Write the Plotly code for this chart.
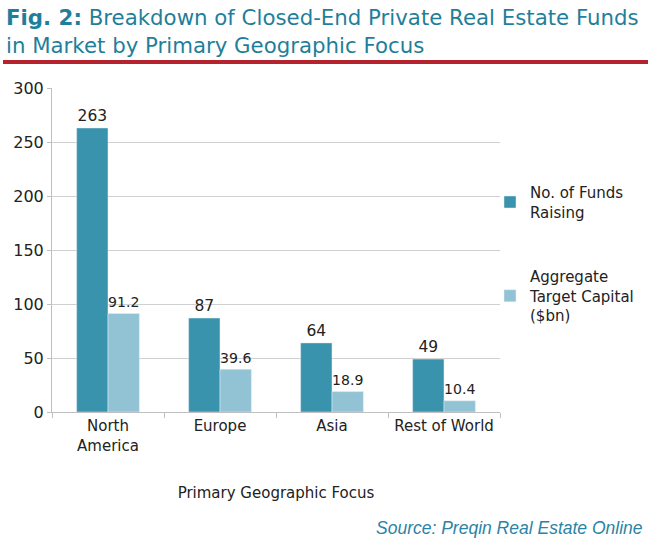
import plotly.graph_objects as go

categories = ["North<br>America", "Europe", "Asia", "Rest of World"]
funds_raising = [263, 87, 64, 49]
target_capital = [91.2, 39.6, 18.9, 10.4]
series_names = ["No. of Funds<br>Raising", "Aggregate<br>Target Capital<br>($bn)"]
title_lines = ["<b>Fig. 2:</b> Breakdown of Closed-End Private Real Estate Funds",
               "in Market by Primary Geographic Focus"]

FONT = "DejaVu Sans"
TEXT_COLOR = "#222222"
TITLE_COLOR = "#1f7f9a"

# plot area in pixels: x 52..500, y 88..412
L, R, T, B = 52, 500, 88, 412


def px_x(x):
    return (x - L) / (R - L)


def px_y(y):
    return (B - y) / (B - T)


bars = [
    go.Bar(x=categories, y=funds_raising, name=series_names[0], legendgroup="a",
           marker_color="#3a93ad", text=funds_raising, textposition="outside",
           cliponaxis=False, textfont=dict(size=15.5, color=TEXT_COLOR)),
    go.Bar(x=categories, y=target_capital, name=series_names[1], legendgroup="b",
           marker_color="#91c3d5", text=target_capital, textposition="outside",
           cliponaxis=False, textfont=dict(size=15.5, color=TEXT_COLOR)),
]

annotations = [
    dict(text=title_lines[0], x=px_x(4), y=px_y(18)),
    dict(text=title_lines[1], x=px_x(4), y=px_y(45)),
]
for a in annotations:
    a.update(xref="paper", yref="paper", xanchor="left", yanchor="middle",
             showarrow=False, font=dict(family=FONT, size=21.3, color=TITLE_COLOR))

annotations.append(dict(text="<i>Source: Preqin Real Estate Online</i>",
                        xref="paper", yref="paper", x=px_x(645), y=px_y(528),
                        xanchor="right", yanchor="middle", showarrow=False,
                        font=dict(family="Liberation Sans", size=17.5, color="#2b83a6")))

layout = go.Layout(
    width=650, height=543,
    margin=dict(l=L, r=650 - R, t=T, b=543 - B, autoexpand=False),
    paper_bgcolor="white", plot_bgcolor="white",
    font=dict(family=FONT, size=15, color=TEXT_COLOR),
    barmode="group", bargap=0.44, bargroupgap=0,
    xaxis=dict(
        title=dict(text="Primary Geographic Focus", standoff=33,
                   font=dict(size=15, color=TEXT_COLOR)),
        showline=True, linecolor="#bfbfbf", linewidth=1,
        ticks="outside", tickson="boundaries", ticklen=5, tickcolor="#bfbfbf",
        tickfont=dict(size=15, color=TEXT_COLOR),
    ),
    yaxis=dict(
        range=[0, 300], dtick=50,
        showline=True, linecolor="#bfbfbf", linewidth=1,
        ticks="outside", ticklen=4, tickcolor="#bfbfbf",
        showgrid=True, gridcolor="#d0d0d0", gridwidth=1,
        zeroline=False,
        tickfont=dict(size=16, color=TEXT_COLOR),
    ),
    legend=dict(
        x=px_x(490), xanchor="left", y=px_y(176), yanchor="top",
        font=dict(size=15, color=TEXT_COLOR),
        tracegroupgap=42, itemwidth=30,
        bgcolor="rgba(0,0,0,0)",
    ),
    shapes=[dict(type="line", xref="paper", yref="paper",
                 x0=px_x(3), x1=px_x(648), y0=px_y(62), y1=px_y(62),
                 line=dict(color="#b5232f", width=4))],
    annotations=annotations,
)

fig = go.Figure(data=bars, layout=layout)
# drop the page's default body margin so the figure sits at the window corner
fig.write_html("out.html", config={"displayModeBar": False},
               post_script="document.body.style.margin='0';"
                           "document.body.style.overflow='hidden';")
